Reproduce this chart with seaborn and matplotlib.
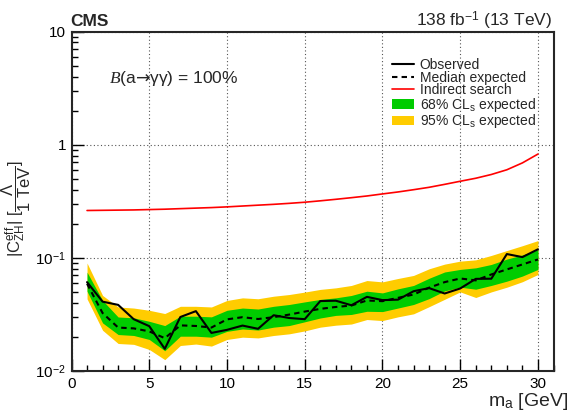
import numpy as np
import pandas as pd
import matplotlib
matplotlib.use("Agg")
import matplotlib.pyplot as plt
import seaborn as sns
from matplotlib.lines import Line2D
from matplotlib.patches import Patch
from matplotlib.ticker import MultipleLocator, FixedLocator, FixedFormatter, LogLocator, NullFormatter

# ---------------- data ----------------
mass = list(range(1, 31))
observed = [0.061, 0.041, 0.0384, 0.0287, 0.0249, 0.0157, 0.0300, 0.0338, 0.0217, 0.0231,
            0.0252, 0.0236, 0.0311, 0.0294, 0.0287, 0.0415, 0.0418, 0.0381, 0.0452, 0.0423,
            0.0427, 0.0507, 0.0540, 0.0484, 0.0536, 0.0652, 0.0654, 0.108, 0.1015, 0.119]
median_exp = [0.059, 0.0325, 0.0242, 0.0238, 0.0224, 0.0195, 0.0253, 0.0250, 0.0242, 0.0286,
              0.0299, 0.0288, 0.0299, 0.0315, 0.0335, 0.0354, 0.0368, 0.0379, 0.0420, 0.0414,
              0.0443, 0.0474, 0.0545, 0.0610, 0.0657, 0.0632, 0.0713, 0.0790, 0.0874, 0.0968]
exp68_hi = [0.0747, 0.042, 0.030, 0.0295, 0.0275, 0.0252, 0.0305, 0.0305, 0.0301, 0.0344,
            0.036, 0.0353, 0.0373, 0.0387, 0.0408, 0.0429, 0.0443, 0.0465, 0.0507, 0.049,
            0.0532, 0.057, 0.066, 0.075, 0.079, 0.0816, 0.0874, 0.0975, 0.106, 0.118]
exp68_lo = [0.0507, 0.0266, 0.021, 0.0206, 0.019, 0.0151, 0.0203, 0.0203, 0.0199, 0.0224,
            0.0235, 0.023, 0.0244, 0.0252, 0.0272, 0.0294, 0.031, 0.0316, 0.0337, 0.0335,
            0.036, 0.0387, 0.0436, 0.051, 0.055, 0.0528, 0.057, 0.0622, 0.069, 0.079]
exp95_hi = [0.090, 0.0465, 0.0368, 0.036, 0.0344, 0.0322, 0.0373, 0.0373, 0.0368, 0.042,
            0.0443, 0.0435, 0.0458, 0.0474, 0.0498, 0.0526, 0.0543, 0.057, 0.063, 0.0613,
            0.0657, 0.0699, 0.080, 0.088, 0.0935, 0.096, 0.105, 0.116, 0.128, 0.142]
exp95_lo = [0.0434, 0.0229, 0.0175, 0.0172, 0.0155, 0.0126, 0.0168, 0.0173, 0.0166, 0.019,
            0.0199, 0.0196, 0.0206, 0.0213, 0.0226, 0.0244, 0.0254, 0.026, 0.0285, 0.0279,
            0.0301, 0.032, 0.037, 0.043, 0.050, 0.0446, 0.050, 0.055, 0.0615, 0.0713]
indirect = [0.262, 0.263, 0.264, 0.265, 0.267, 0.269, 0.272, 0.275, 0.278, 0.282,
            0.287, 0.292, 0.297, 0.303, 0.310, 0.319, 0.329, 0.340, 0.352, 0.367,
            0.382, 0.400, 0.420, 0.446, 0.475, 0.505, 0.545, 0.600, 0.690, 0.826]

legend_labels = ["Observed", "Median expected", "Indirect search",
                 r"68% CL$_{\rm s}$ expected", r"95% CL$_{\rm s}$ expected"]
ytick_vals = [0.01, 0.1, 1, 10]
ytick_labels = [r"10$^{-2}$", r"10$^{-1}$", "1", "10"]

df = pd.DataFrame({"mass": mass, "observed": observed, "median": median_exp,
                   "lo68": exp68_lo, "hi68": exp68_hi, "lo95": exp95_lo, "hi95": exp95_hi,
                   "indirect": indirect})

# ---------------- style ----------------
sns.set_style("ticks")
plt.rcParams["font.family"] = ["Liberation Sans", "DejaVu Sans"]
plt.rcParams["mathtext.fontset"] = "custom"
plt.rcParams["mathtext.rm"] = "Liberation Sans"
plt.rcParams["mathtext.sf"] = "Liberation Sans"
plt.rcParams["mathtext.it"] = "Liberation Serif:italic"
plt.rcParams["mathtext.bf"] = "Liberation Sans:bold"
plt.rcParams["mathtext.tt"] = "DejaVu Sans"

GREEN = "#00cc00"
YELLOW = "#ffcc00"

fig = plt.figure(figsize=(5.71, 4.12), dpi=100)
ax = fig.add_axes([71.5 / 571, 41 / 412, 482 / 571, 339.5 / 412])
ax.set_yscale("log")

ax.fill_between(df["mass"], df["lo95"], df["hi95"], color=YELLOW, lw=0, zorder=1)
ax.fill_between(df["mass"], df["lo68"], df["hi68"], color=GREEN, lw=0, zorder=1.1)

sns.lineplot(data=df, x="mass", y="indirect", ax=ax, color="#ff0000", lw=1.2, legend=False)
sns.lineplot(data=df, x="mass", y="median", ax=ax, color="black", lw=1.5, legend=False)
ax.lines[-1].set_dashes([2.6, 2.0])
sns.lineplot(data=df, x="mass", y="observed", ax=ax, color="black", lw=1.5, legend=False)

ax.set_xlim(0, 31)
ax.set_ylim(0.01, 10)

# ticks
ax.xaxis.set_major_locator(MultipleLocator(5))
ax.xaxis.set_minor_locator(MultipleLocator(1))
ax.yaxis.set_major_locator(FixedLocator(ytick_vals))
ax.yaxis.set_major_formatter(FixedFormatter(ytick_labels))
ax.yaxis.set_minor_locator(LogLocator(base=10, subs=np.arange(2, 10)))
ax.yaxis.set_minor_formatter(NullFormatter())
ax.tick_params(which="both", direction="in", top=False, right=False, width=1.0,
               labelsize=11, colors="black")
ax.tick_params(which="major", length=8.5, pad=4)
ax.tick_params(which="minor", length=4.3)
for s in ax.spines.values():
    s.set_linewidth(1.5)
    s.set_visible(True)

ax.grid(True, which="major", color="#555555", linestyle=(0, (1, 2.2)), lw=0.8)
ax.set_axisbelow(True)

ax.set_xlabel(r"m$_{\rm a}$ [GeV]", fontsize=14, ha="right")
ax.xaxis.set_label_coords(1.03, -0.06)
ax.set_ylabel(r"|C$^{\rm eff}_{\rm ZH}$| [$\dfrac{\Lambda}{\rm 1\ TeV}$]", fontsize=12)
ax.yaxis.set_label_coords(-0.08, 0.48)

# header
fig.text(70 / 571, 1 - 26 / 412, "CMS", fontsize=12.5, fontweight="bold", ha="left", va="baseline")
fig.text(552 / 571, 1 - 26 / 412, r"138 fb$^{-1}$ (13 TeV)", fontsize=12.5, ha="right", va="baseline")

ax.text(0.078, 0.862, r"$\mathit{B}$(a$\mathtt{→}$γγ) = 100%", transform=ax.transAxes,
        fontsize=12.5, ha="left", va="center")

handles = [Line2D([], [], color="black", lw=1.5),
           Line2D([], [], color="black", lw=1.5, dashes=[2.6, 2.0]),
           Line2D([], [], color="#ff0000", lw=1.2),
           Patch(facecolor=GREEN, edgecolor="none"),
           Patch(facecolor=YELLOW, edgecolor="none")]
ax.legend(handles, legend_labels, loc="upper left", bbox_to_anchor=(0.665, 0.922),
          frameon=False, fontsize=10, handlelength=1.6, handleheight=0.65,
          handletextpad=0.4, labelspacing=-0.1, borderpad=0, borderaxespad=0)

fig.savefig("out.png", dpi=100)
